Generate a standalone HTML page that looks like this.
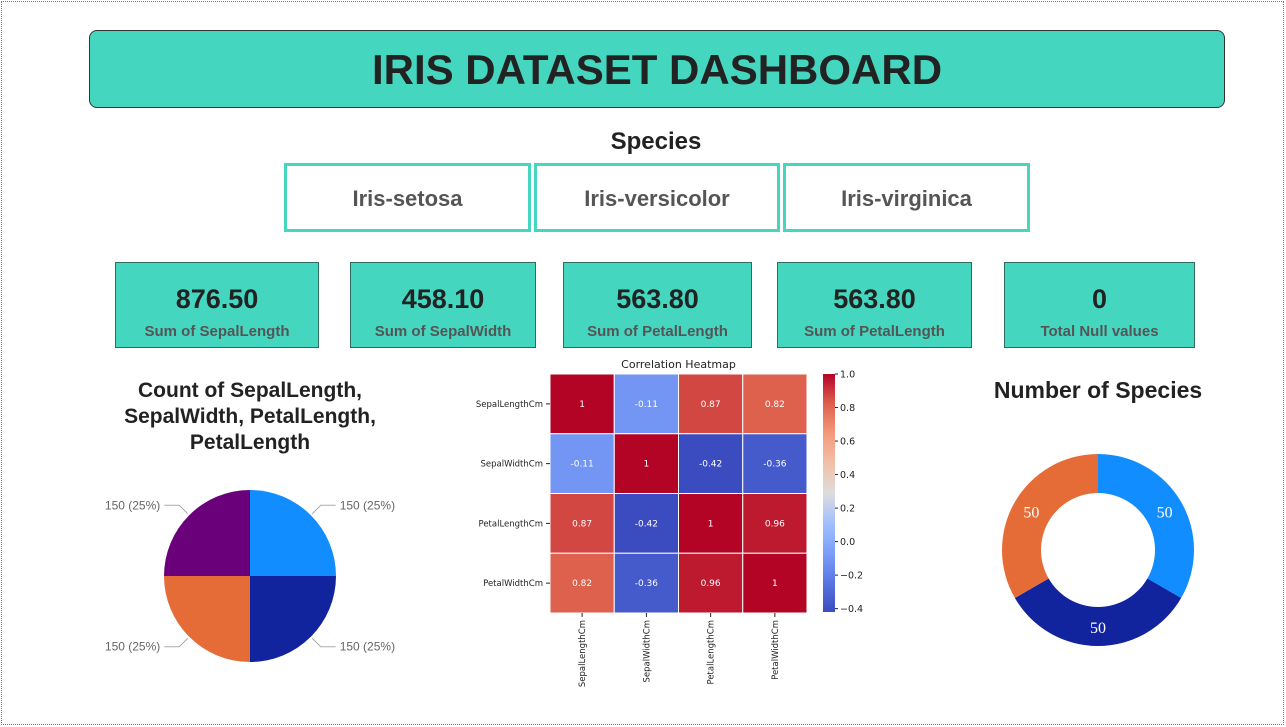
<!DOCTYPE html>
<html><head><meta charset="utf-8"><style>
body{margin:0;width:1286px;height:727px;background:#fff;font-family:"Liberation Sans",sans-serif;position:relative;overflow:hidden}
.abs{position:absolute;box-sizing:border-box}
.frame{left:1px;top:1px;width:1283px;height:724px;border:1px dotted #777}
.title{left:89px;top:30px;width:1136px;height:78px;background:#45d6c0;border:1px solid #333;border-radius:8px;text-align:center;line-height:78px;font-weight:bold;font-size:42px;color:#222}
.slicer{top:163px;height:69px;border:3px solid #45d6c0;text-align:center;line-height:66px;font-weight:bold;font-size:22px;color:#555}
.kpi{top:262px;height:86px;background:#45d6c0;border:1px solid #2f6b60;text-align:center}
.kpi .v{margin-top:20px;font-size:27px;font-weight:bold;color:#222;line-height:32px}
.kpi .l{font-size:15px;font-weight:bold;color:#555;margin-top:8px}
.h{font-weight:bold;color:#222;text-align:center}
</style></head><body>
<div class="abs frame"></div>
<div class="abs title">IRIS DATASET DASHBOARD</div>
<div class="abs h" style="left:556px;top:128px;width:200px;font-size:24px">Species</div>
<div class="abs slicer" style="left:284px;width:247px">Iris-setosa</div>
<div class="abs slicer" style="left:534px;width:246px">Iris-versicolor</div>
<div class="abs slicer" style="left:783px;width:247px">Iris-virginica</div>
<div class="abs kpi" style="left:115px;width:204px"><div class="v">876.50</div><div class="l">Sum of SepalLength</div></div>
<div class="abs kpi" style="left:350px;width:186px"><div class="v">458.10</div><div class="l">Sum of SepalWidth</div></div>
<div class="abs kpi" style="left:563px;width:189px"><div class="v">563.80</div><div class="l">Sum of PetalLength</div></div>
<div class="abs kpi" style="left:777px;width:195px"><div class="v">563.80</div><div class="l">Sum of PetalLength</div></div>
<div class="abs kpi" style="left:1004px;width:191px"><div class="v">0</div><div class="l">Total Null values</div></div>
<div class="abs h" style="left:100px;top:378px;width:300px;font-size:21px;line-height:26px">Count of SepalLength, SepalWidth, PetalLength, PetalLength</div>
<div class="abs h" style="left:960px;top:377px;width:276px;font-size:23px">Number of Species</div>
<svg class="abs" style="left:0;top:0" width="1286" height="727" id="svg"></svg>
<script>
const pieValues=[150,150,150,150];
const pieLabels=["150 (25%)","150 (25%)","150 (25%)","150 (25%)"];
const pieColors=["#118dff","#12239e","#e66c37","#6b007b"];
const donutValues=[50,50,50];
const donutColors=["#118dff","#12239e","#e66c37"];
const hmLabels=["SepalLengthCm","SepalWidthCm","PetalLengthCm","PetalWidthCm"];
const hmValues=[[1,-0.11,0.87,0.82],[-0.11,1,-0.42,-0.36],[0.87,-0.42,1,0.96],[0.82,-0.36,0.96,1]];
const cbTicks=[1.0,0.8,0.6,0.4,0.2,0.0,-0.2,-0.4];
const NS="http://www.w3.org/2000/svg";
const svg=document.getElementById('svg');
function mk(t,a,p){const e=document.createElementNS(NS,t);for(const k in a)e.setAttribute(k,a[k]);(p||svg).appendChild(e);return e;}
function pt(cx,cy,r,a){return [cx+r*Math.sin(a),cy-r*Math.cos(a)];}
function arc(cx,cy,r0,r1,a0,a1){const l=a1-a0>Math.PI?1:0;const p1=pt(cx,cy,r1,a0),p2=pt(cx,cy,r1,a1);
 if(r0==0)return `M${cx},${cy}L${p1}A${r1},${r1} 0 ${l} 1 ${p2}Z`;
 const p3=pt(cx,cy,r0,a1),p4=pt(cx,cy,r0,a0);return `M${p1}A${r1},${r1} 0 ${l} 1 ${p2}L${p3}A${r0},${r0} 0 ${l} 0 ${p4}Z`;}
// pie
let tot=pieValues.reduce((a,b)=>a+b,0),a=0;
pieValues.forEach((v,i)=>{const a1=a+v/tot*2*Math.PI;
 const s=mk('path',{d:arc(250,576,0,86,a,a1),fill:pieColors[i]});
 
 
 const m=(a+a1)/2,[x1,y1]=pt(250,576,88,m),[x2,y2]=pt(250,576,100,m);const right=Math.sin(m)>0;const x3=x2+(right?15:-15);
 const ln=mk('polyline',{points:`${x1},${y1} ${x2},${y2} ${x3},${y2}`,fill:'none',stroke:'#aaa','stroke-width':1});
 
 
 const t=mk('text',{x:x3+(right?4:-4),y:y2+4,'font-size':12,fill:'#666','text-anchor':right?'start':'end','font-family':'Liberation Sans'});t.textContent=pieLabels[i];
 
 
 a=a1;});
// donut
tot=donutValues.reduce((a,b)=>a+b,0);a=0;
donutValues.forEach((v,i)=>{const a1=a+v/tot*2*Math.PI;
 const s=mk('path',{d:arc(1098,550,57,96,a,a1),fill:donutColors[i]});
 
 
 const[x,y]=pt(1098,550,77,(a+a1)/2);
 const t=mk('text',{x:x,y:y+6,'font-size':16,fill:'#fff','text-anchor':'middle','font-family':'Liberation Serif'});t.textContent=v;
 
 
 a=a1;});
// heatmap
const hx=550,hy=374,cw=64.25,ch=59.75,vmin=-0.42,vmax=1;
function cm(v){const t=(v-vmin)/(vmax-vmin);
 const stops=[[0,[59,76,192]],[0.125,[88,118,226]],[0.25,[124,159,249]],[0.375,[162,192,253]],[0.5,[221,220,220]],[0.625,[242,192,168]],[0.75,[244,154,123]],[0.875,[222,96,77]],[1,[180,4,38]]];
 for(let i=1;i<stops.length;i++)if(t<=stops[i][0]){const[s0,c0]=stops[i-1],[s1,c1]=stops[i];const f=(t-s0)/(s1-s0);return `rgb(${c0.map((c,j)=>Math.round(c+(c1[j]-c)*f)).join(',')})`;}
 return 'rgb(180,4,38)';}
const ht=mk('text',{x:hx+2*cw,y:368,'font-size':11,fill:'#222','text-anchor':'middle','font-family':'DejaVu Sans'});ht.textContent='Correlation Heatmap';


hmValues.forEach((row,r)=>row.forEach((v,c)=>{
 const rc=mk('rect',{x:hx+c*cw,y:hy+r*ch,width:cw,height:ch,fill:cm(v),stroke:'#fff','stroke-width':1});
 
 
 const t=mk('text',{x:hx+(c+.5)*cw,y:hy+(r+.5)*ch+3,'font-size':9,fill:'#fff','text-anchor':'middle','font-family':'DejaVu Sans'});t.textContent=v;
 
 }));
hmLabels.forEach((l,i)=>{
 const t=mk('text',{x:hx-7,y:hy+(i+.5)*ch+3,'font-size':8.5,fill:'#222','text-anchor':'end','font-family':'DejaVu Sans'});t.textContent=l;
 
 
 mk('line',{x1:hx-4,x2:hx,y1:hy+(i+.5)*ch,y2:hy+(i+.5)*ch,stroke:'#222'});
 const x=hx+(i+.5)*cw;
 mk('line',{x1:x,x2:x,y1:hy+4*ch,y2:hy+4*ch+4,stroke:'#222'});
 const t2=mk('text',{x:0,y:0,'font-size':8.5,fill:'#222','text-anchor':'end','font-family':'DejaVu Sans',transform:`translate(${x+3},${hy+4*ch+7}) rotate(-90)`});t2.textContent=l;
 
 });
// colorbar
const cbx=823,cbw=12,cbTop=374,cbBot=612;
const defs=mk('defs',{});const g=mk('linearGradient',{id:'cbg',x1:0,y1:1,x2:0,y2:0},defs);
for(let i=0;i<=16;i++){mk('stop',{offset:i/16,'stop-color':cm(vmin+(vmax-vmin)*i/16)},g);}
const cb=mk('rect',{x:cbx,y:cbTop,width:cbw,height:cbBot-cbTop,fill:'url(#cbg)'});


function cy(v){return cbBot-(v-vmin)/(vmax-vmin)*(cbBot-cbTop);}
cbTicks.forEach(v=>{const y=cy(v);mk('line',{x1:cbx+cbw,x2:cbx+cbw+3,y1:y,y2:y,stroke:'#222'});
 const t=mk('text',{x:cbx+cbw+5,y:y+3.5,'font-size':9.5,fill:'#222','font-family':'DejaVu Sans'});t.textContent=v<0?'\u2212'+Math.abs(v).toFixed(1):v.toFixed(1);
 
 });
</script>
</body></html>
